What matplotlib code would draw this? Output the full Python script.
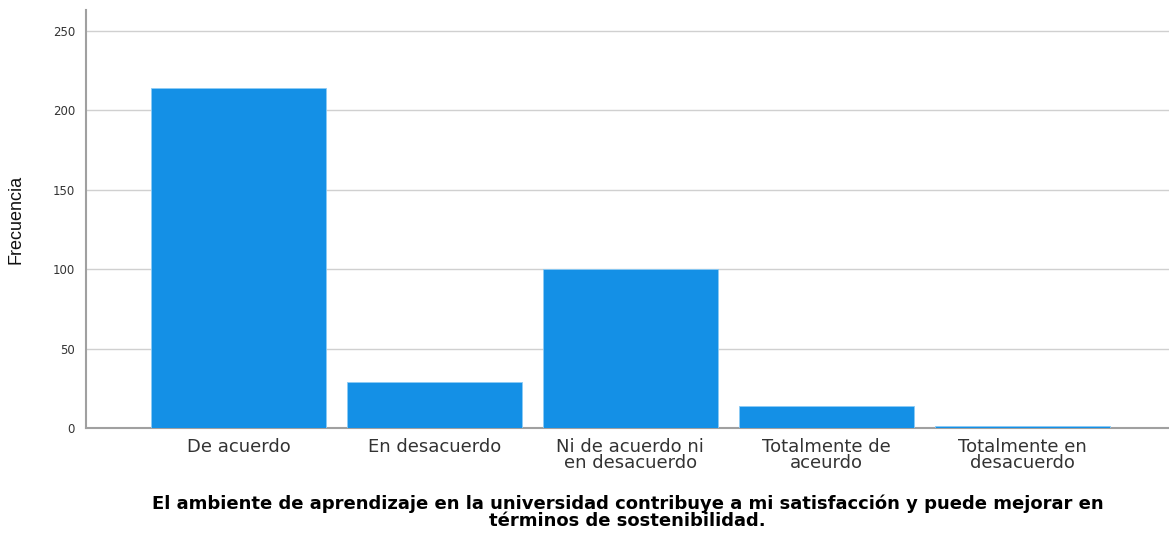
import matplotlib
matplotlib.use('Agg')
import matplotlib.pyplot as plt

plt.rcParams['font.family'] = ['DejaVu Sans']

# datos
categorias = ['De acuerdo', 'En desacuerdo', 'Ni de acuerdo ni\nen desacuerdo',
              'Totalmente de\naceurdo', 'Totalmente en\ndesacuerdo']
frecuencias = [214, 29, 100, 14, 1]
y_ticks = [0, 50, 100, 150, 200, 250]

fig = plt.figure(figsize=(11.69, 5.33), dpi=100)
ax = fig.add_axes([0.0736, 0.197, 0.9264, 0.784])

x = list(range(len(categorias)))
ax.bar(x, frecuencias, width=0.893, color='#1490E6', edgecolor='#8CCBF5',
       linewidth=0.6, zorder=3)

ax.set_xlim(-0.778, 4.75)
ax.set_ylim(0, 263)
ax.set_yticks(y_ticks)
ax.set_xticks(x)
ax.set_xticklabels(categorias, fontsize=13, color='#333333', linespacing=0.9)
ax.tick_params(axis='x', length=0, pad=7)
ax.tick_params(axis='y', length=0, labelsize=8.5, colors='#333333', pad=8)
ax.grid(axis='y', color='#D0D0D0', linewidth=1, zorder=0)

for s in ['top', 'right']:
    ax.spines[s].set_visible(False)
for s in ['left', 'bottom']:
    ax.spines[s].set_color('#A0A0A0')
    ax.spines[s].set_linewidth(1.5)

ax.set_ylabel('Frecuencia', fontsize=13, color='#111111', labelpad=20,
              family='Liberation Sans')
ax.set_xlabel('El ambiente de aprendizaje en la universidad contribuye a mi satisfacción y puede mejorar en\n'
              'términos de sostenibilidad.', fontsize=13, fontweight='bold',
              linespacing=0.93, labelpad=16)

fig.savefig('out.png', dpi=100)
